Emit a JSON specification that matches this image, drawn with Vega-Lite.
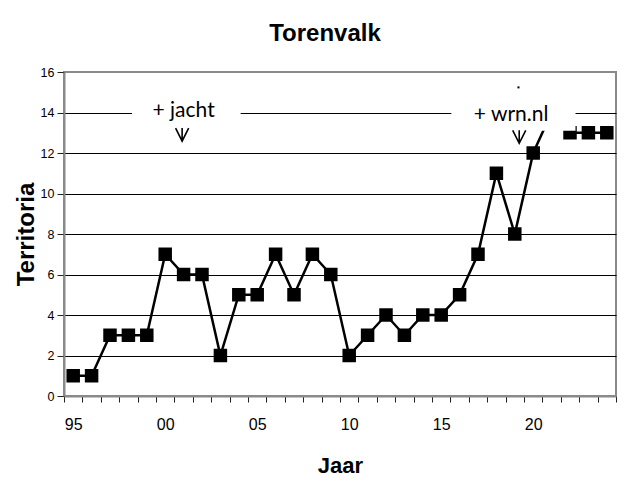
{
  "$schema": "https://vega.github.io/schema/vega-lite/v6.json",
  "width": 552,
  "height": 324,
  "autosize": {"type": "none"},
  "padding": {"left": 64, "top": 72, "right": 14, "bottom": 92},
  "background": "white",
  "title": {
    "text": "Torenvalk",
    "font": "Liberation Sans",
    "fontSize": 24,
    "fontWeight": "bold",
    "color": "black",
    "anchor": "middle",
    "frame": "group",
    "dx": -15,
    "offset": 20
  },
  "config": {
    "view": {"stroke": "#8a8a8a", "strokeWidth": 2},
    "axis": {
      "domainColor": "#8a8a8a",
      "domainWidth": 2,
      "tickColor": "#222222",
      "tickWidth": 1,
      "labelColor": "black",
      "labelFont": "Liberation Sans",
      "titleFont": "Liberation Sans",
      "titleFontWeight": "bold",
      "titleColor": "black"
    }
  },
  "datasets": {
    "telling": [
      {"jaar": 1995, "territoria": 1},
      {"jaar": 1996, "territoria": 1},
      {"jaar": 1997, "territoria": 3},
      {"jaar": 1998, "territoria": 3},
      {"jaar": 1999, "territoria": 3},
      {"jaar": 2000, "territoria": 7},
      {"jaar": 2001, "territoria": 6},
      {"jaar": 2002, "territoria": 6},
      {"jaar": 2003, "territoria": 2},
      {"jaar": 2004, "territoria": 5},
      {"jaar": 2005, "territoria": 5},
      {"jaar": 2006, "territoria": 7},
      {"jaar": 2007, "territoria": 5},
      {"jaar": 2008, "territoria": 7},
      {"jaar": 2009, "territoria": 6},
      {"jaar": 2010, "territoria": 2},
      {"jaar": 2011, "territoria": 3},
      {"jaar": 2012, "territoria": 4},
      {"jaar": 2013, "territoria": 3},
      {"jaar": 2014, "territoria": 4},
      {"jaar": 2015, "territoria": 4},
      {"jaar": 2016, "territoria": 5},
      {"jaar": 2017, "territoria": 7},
      {"jaar": 2018, "territoria": 11},
      {"jaar": 2019, "territoria": 8},
      {"jaar": 2020, "territoria": 12},
      {"jaar": 2021, "territoria": 14},
      {"jaar": 2022, "territoria": 13},
      {"jaar": 2023, "territoria": 13},
      {"jaar": 2024, "territoria": 13}
    ],
    "vakken": [
      {"van": 1998.2, "tot": 2004.1, "onder": 13.3, "boven": 15.0},
      {"van": 2015.55, "tot": 2022.3, "onder": 13.1, "boven": 15.0}
    ],
    "notities": [
      {"jaar": 2001.0, "waarde": 13.78, "tekst": "+ jacht"},
      {"jaar": 2018.8, "waarde": 13.58, "tekst": "+ wrn.nl"}
    ],
    "pijlen": [
      {"jaar": 2000.92, "waarde": 12.91},
      {"jaar": 2019.24, "waarde": 12.8}
    ],
    "stip": [
      {"jaar": 2019.2, "waarde": 15.24}
    ]
  },
  "layer": [
    {
      "data": {"name": "telling"},
      "mark": {
        "type": "line",
        "color": "black",
        "strokeWidth": 2.5,
        "point": {"shape": "square", "size": 182, "filled": true, "color": "black", "opacity": 1}
      },
      "encoding": {
        "x": {
          "field": "jaar",
          "type": "quantitative",
          "title": "Jaar",
          "scale": {"domain": [1994.5, 2024.5], "nice": false, "zero": false},
          "axis": {
            "title": "Jaar",
            "titleFontSize": 22,
            "titlePadding": 23,
            "grid": false,
            "tickCount": 40,
            "values": [1994.5, 1995.5, 1996.5, 1997.5, 1998.5, 1999.5, 2000.5, 2001.5, 2002.5, 2003.5, 2004.5, 2005.5, 2006.5, 2007.5, 2008.5, 2009.5, 2010.5, 2011.5, 2012.5, 2013.5, 2014.5, 2015.5, 2016.5, 2017.5, 2018.5, 2019.5, 2020.5, 2021.5, 2022.5, 2023.5, 2024.5],
            "labelExpr": "datum.value < 2024 && (datum.value + 0.5) % 5 == 0 ? slice(toString(datum.value + 0.5), 2) : ''",
            "labelOffset": 9.2,
            "labelFontSize": 16,
            "labelPadding": 14,
            "labelFlush": false,
            "labelOverlap": false,
            "tickSize": 6
          }
        },
        "y": {
          "field": "territoria",
          "type": "quantitative",
          "title": "Territoria",
          "scale": {"domain": [0, 16], "nice": false},
          "axis": {
            "title": "Territoria",
            "titleFontSize": 24,
            "titlePadding": 2,
            "tickCount": 20,
            "values": [0, 2, 4, 6, 8, 10, 12, 14, 16],
            "grid": true,
            "gridColor": "black",
            "gridWidth": 1,
            "gridOpacity": {"condition": {"test": "datum.value == 0 || datum.value == 16", "value": 0}, "value": 1},
            "labelFontSize": 12.5,
            "labelPadding": 3,
            "tickSize": 7
          }
        }
      }
    },
    {
      "data": {"name": "vakken"},
      "mark": {"type": "rect", "color": "white", "opacity": 1},
      "encoding": {
        "x": {"field": "van", "type": "quantitative", "title": "Jaar", "scale": {"domain": [1994.5, 2024.5], "nice": false, "zero": false}},
        "x2": {"field": "tot"},
        "y": {"field": "onder", "type": "quantitative", "title": "Territoria", "scale": {"domain": [0, 16], "nice": false}},
        "y2": {"field": "boven"}
      }
    },
    {
      "data": {"name": "notities"},
      "mark": {"type": "text", "font": "Lato", "fontSize": 21, "color": "black", "align": "center", "baseline": "alphabetic"},
      "encoding": {
        "x": {"field": "jaar", "type": "quantitative", "title": "Jaar", "scale": {"domain": [1994.5, 2024.5], "nice": false, "zero": false}},
        "y": {"field": "waarde", "type": "quantitative", "title": "Territoria", "scale": {"domain": [0, 16], "nice": false}},
        "text": {"field": "tekst"}
      }
    },
    {
      "data": {"name": "pijlen"},
      "mark": {"type": "point", "shape": "M-1,-1L0,1L1,-1M0,-1L0,1", "filled": false, "color": "black", "strokeWidth": 1.6, "size": 170, "opacity": 1},
      "encoding": {
        "x": {"field": "jaar", "type": "quantitative", "title": "Jaar", "scale": {"domain": [1994.5, 2024.5], "nice": false, "zero": false}},
        "y": {"field": "waarde", "type": "quantitative", "title": "Territoria", "scale": {"domain": [0, 16], "nice": false}}
      }
    },
    {
      "data": {"name": "stip"},
      "mark": {"type": "point", "shape": "square", "filled": true, "color": "black", "size": 4, "opacity": 1},
      "encoding": {
        "x": {"field": "jaar", "type": "quantitative", "title": "Jaar", "scale": {"domain": [1994.5, 2024.5], "nice": false, "zero": false}},
        "y": {"field": "waarde", "type": "quantitative", "title": "Territoria", "scale": {"domain": [0, 16], "nice": false}}
      }
    }
  ]
}
